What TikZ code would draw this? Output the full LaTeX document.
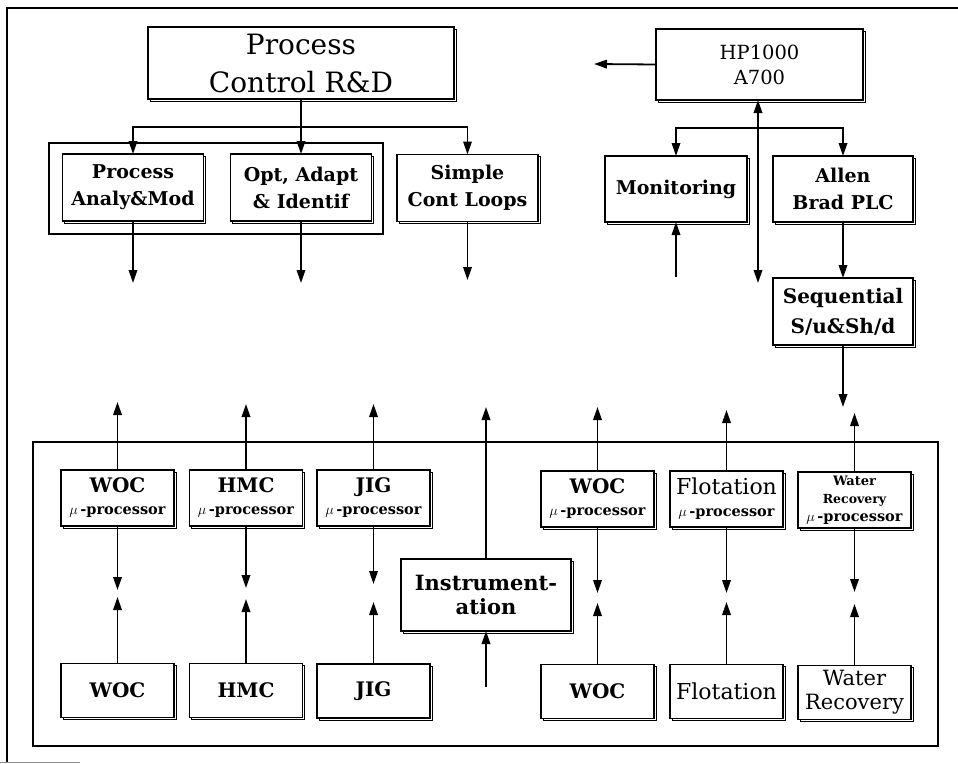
\documentclass[tikz,border=0pt]{standalone}
\usepackage{fontspec}
\setmainfont{DejaVu Serif}
\usetikzlibrary{arrows.meta,shadows}

\newcommand{\fsz}[2]{\fontsize{#1}{#2}\selectfont}
\newcommand{\mup}{$\mu$\,-processor}

\begin{document}
\begin{tikzpicture}[x=1pt,y=-1pt,
  every node/.style={inner sep=0pt, outer sep=0pt},
  blk/.style={draw, line width=1.6pt, fill=white, align=center,
    copy shadow={shadow xshift=2.4pt, shadow yshift=-2.4pt, line width=1pt}},
  grp/.style={draw, line width=1.5pt},
  upper/.style={blk, minimum width=141pt, minimum height=67pt, font=\fsz{19}{27}\bfseries},
  mproc/.style={blk, minimum width=113pt, minimum height=56pt, font=\fsz{14.5}{22}\bfseries},
  plant/.style={blk, minimum width=113pt, minimum height=54pt, font=\fsz{20}{24}\bfseries},
  link/.style={line width=1.8pt, -{Triangle[length=13pt,width=8.5pt]}},
  link2/.style={line width=1.8pt, {Triangle[length=13pt,width=8.5pt]}-{Triangle[length=13pt,width=8.5pt]}},
  wire/.style={line width=1.8pt}]

\useasboundingbox (0,0) rectangle (958,763);

% page frame
\draw[line width=1.5pt] (7,763) -- (7,8) -- (958,8);
\draw[line width=0.8pt, black!45] (0,762) -- (80,762);

% ---- research and development branch ----
\node[grp, minimum width=334pt, minimum height=91pt] (grpA) at (216,188.5) {};
\node[blk, minimum width=306pt, minimum height=72pt, font=\fsz{28}{38}] (pc) at (301,63) {Process\\Control R\&D};
\node[upper] (pam) at (133,187.5) {Process\\Analy\&Mod};
\node[upper] (oai) at (301,187.5) {Opt, Adapt\\\& Identif};
\node[upper] (scl) at (467.5,188) {Simple\\Cont Loops};

\coordinate (pcj) at (301,127);
\draw[wire] (pc.south) -- (pcj);
\draw[link] (pcj) -| (pam.north);
\draw[link] (pcj) -- (oai.north);
\draw[link] (pcj) -| (scl.north);

\coordinate (pamo) at (133,283);
\coordinate (oaio) at (301,283);
\coordinate (sclo) at (467.5,280);
\draw[link] (pam.south) -- (pamo);
\draw[link] (oai.south) -- (oaio);
\draw[link] (scl.south) -- (sclo);

% ---- supervisory computer branch ----
\node[blk, minimum width=207pt, minimum height=71pt, font=\fsz{19.5}{25}] (hp) at (759.5,64.5) {HP1000\\A700};
\node[upper, minimum width=142pt, minimum height=66pt] (mon) at (676,189) {Monitoring};
\node[upper, minimum width=140pt, minimum height=66pt] (ab) at (843,189) {Allen\\Brad PLC};
\node[upper, minimum width=140pt, font=\fsz{20}{30}\bfseries] (seq) at (843,311.5) {Sequential\\S/u\&Sh/d};

\coordinate (hpo) at (594,64);
\draw[link] (hp.west) -- (hpo);

\coordinate (hpv) at (758,283);
\draw[link2] (hp.south -| hpv) -- (hpv);
\coordinate (hpj) at (758,128);
\draw[link] (hpj) -| (mon.north);
\draw[link] (hpj) -| (ab.north);

\coordinate (moni) at (676,277);
\draw[link] (moni) -- (mon.south);
\draw[link] (ab.south) -- (seq.north);
\coordinate (seqo) at (843,407);
\draw[link] (seq.south) -- (seqo);

% ---- plant level ----
\node[grp, minimum width=905pt, minimum height=304pt] (grpB) at (485.5,594) {};

\node[mproc] (m1) at (117.5,498) {{\fsz{20}{22}WOC}\\\mup};
\node[mproc] (m2) at (246,498) {{\fsz{20}{22}HMC}\\\mup};
\node[mproc] (m3) at (373.5,498) {{\fsz{20}{22}JIG}\\\mup};
\node[mproc] (m4) at (597.5,499) {{\fsz{20}{22}WOC}\\\mup};
\node[mproc] (m5) at (726.5,499) {{\fsz{22}{22}\mdseries Flotation}\\\mup};
\node[mproc, font=\fsz{12.5}{18}\bfseries] (m6) at (854.5,500) {{\fsz{13}{18}Water}\\Recovery\\{\fsz{14.5}{20}\mup}};

\node[blk, minimum width=170pt, minimum height=72pt, font=\fsz{21}{24}\bfseries] (ins) at (486,595) {Instrument-\\ation};

\node[plant] (p1) at (117.5,690.5) {WOC};
\node[plant] (p2) at (246,690.5) {HMC};
\node[plant] (p3) at (373.5,691) {JIG};
\node[plant] (p4) at (597.5,691.5) {WOC};
\node[plant, font=\fsz{22}{24}] (p5) at (726.5,691.5) {Flotation};
\node[plant, font=\fsz{21}{24}] (p6) at (854.5,692.5) {Water\\Recovery};

% links up to the upper level
\coordinate (u1) at (117.5,402);
\coordinate (u2) at (246,404);
\coordinate (u3) at (373.5,404);
\coordinate (u4) at (597.5,407);
\coordinate (u5) at (726.5,410);
\coordinate (u6) at (854.5,413);
\coordinate (ui) at (486,407);
\draw[link] (m1.north) -- (u1);
\draw[link] (m2.north) -- (u2);
\draw[link] (m3.north) -- (u3);
\draw[link] (m4.north) -- (u4);
\draw[link] (m5.north) -- (u5);
\draw[link] (m6.north) -- (u6);
\draw[link] (ins.north) -- (ui);

% processor to plant exchanges
\coordinate (d1) at (117.5,590);
\coordinate (d2) at (246,588);
\coordinate (d3) at (373.5,584);
\coordinate (d4) at (597.5,593);
\coordinate (d5) at (726.5,593);
\coordinate (d6) at (854.5,592);
\draw[link] (m1.south) -- (d1);
\draw[link] (m2.south) -- (d2);
\draw[link] (m3.south) -- (d3);
\draw[link] (m4.south) -- (d4);
\draw[link] (m5.south) -- (d5);
\draw[link] (m6.south) -- (d6);

\coordinate (e1) at (117.5,597);
\coordinate (e2) at (246,599);
\coordinate (e3) at (373.5,602);
\coordinate (e4) at (597.5,603);
\coordinate (e5) at (726.5,602);
\coordinate (e6) at (854.5,604);
\draw[link] (p1.north) -- (e1);
\draw[link] (p2.north) -- (e2);
\draw[link] (p3.north) -- (e3);
\draw[link] (p4.north) -- (e4);
\draw[link] (p5.north) -- (e5);
\draw[link] (p6.north) -- (e6);

\coordinate (insi) at (486,687);
\draw[link] (insi) -- (ins.south);

\end{tikzpicture}
\end{document}
